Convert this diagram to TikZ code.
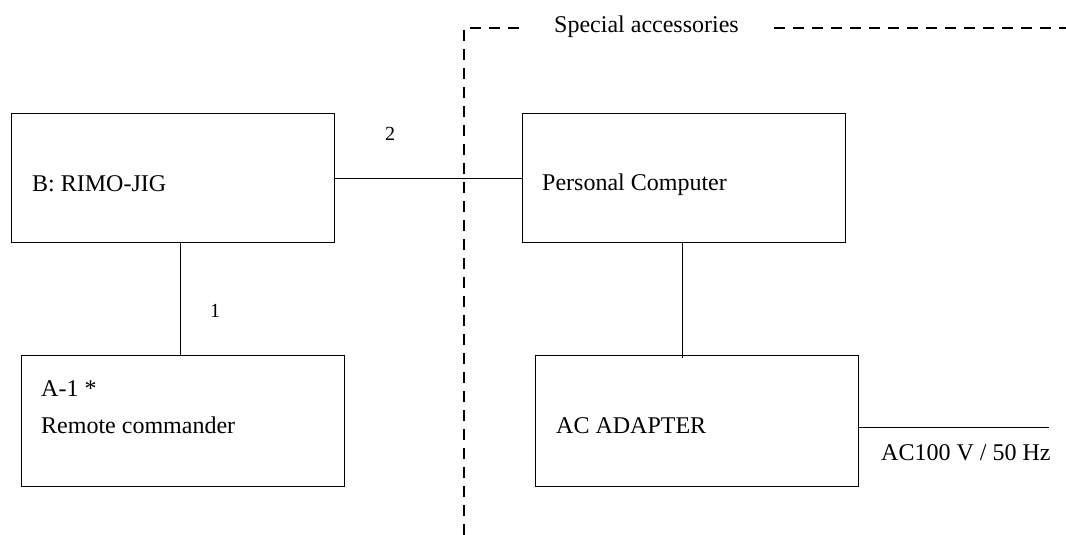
\documentclass[tikz,border=0pt]{standalone}
\usepackage{fontspec}
\setmainfont{Liberation Serif}
\begin{document}
\begin{tikzpicture}[x=1pt,y=-1pt,
  box/.style={draw, line width=1.3pt, rectangle, inner sep=0pt, anchor=north west,
              minimum width=323pt, minimum height=129pt},
  lbl/.style={font=\fontsize{24}{28}\selectfont, inner sep=0pt, anchor=base west},
  num/.style={font=\fontsize{20}{22}\selectfont, inner sep=0pt, anchor=base},
  wire/.style={line width=1pt},
  sepline/.style={line width=2.5pt, dash pattern=on 11pt off 8pt}]
\useasboundingbox (0,0) rectangle (1066,535);

% boxes
\node[box] (B)  at (11,113)  {};
\node[box] (PC) at (522,113) {};
\node[box, minimum height=131pt] (A)  at (21,355)  {};
\node[box, minimum height=131pt] (AC) at (535,355) {};

% texts inside boxes
\node[lbl] (tB)  at (32,191)  {B: RIMO-JIG};
\node[lbl] (tPC) at (542,190) {Personal Computer};
\node[lbl] (tA1) at (41,396)  {A-1 *};
\node[lbl] (tA2) at (41,433)  {Remote commander};
\node[lbl] (tAC) at (556,433) {AC ADAPTER};

% special accessories boundary
\node[lbl] (sa) at (554,33) {Special accessories};
\coordinate (c0) at (464,535);
\coordinate (c1) at (464,28);
\coordinate (c2) at (522,28);
\coordinate (c3) at (774,28);
\coordinate (c4) at (1066,28);
\draw[sepline] (c0) -- (c1) -- (c2);
\draw[sepline] (c3) -- (c4);

% connectors
\draw[wire] (B.east) -- (PC.west);
\node[num] (n2) at (390,140) {2};
\coordinate (bA) at (180,242);
\draw[wire] (bA) -- (bA |- A.north);
\node[num] (n1) at (215,317) {1};
\coordinate (pcA) at (682,242);
\draw[wire] (pcA) -- ([yshift=-3pt]pcA |- AC.north);
\coordinate (acend) at (1049,427);
\draw[wire] (acend -| AC.east) -- (acend);
\node[lbl] (mains) at (881,460) {AC100 V / 50 Hz};
\end{tikzpicture}
\end{document}
